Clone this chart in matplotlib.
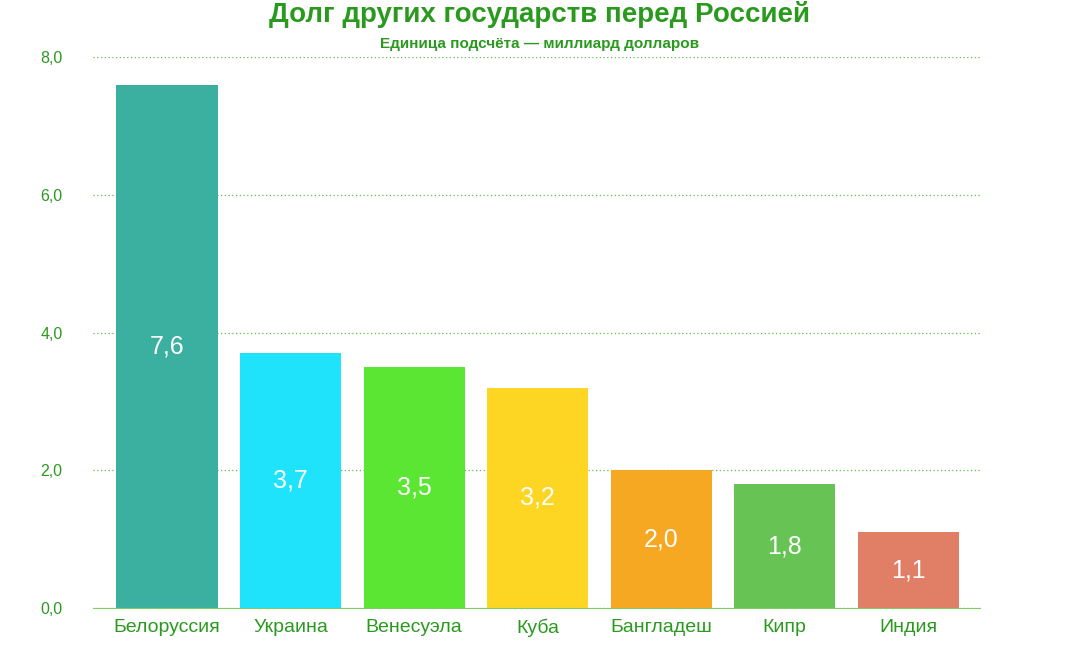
import matplotlib
matplotlib.use("Agg")
import matplotlib.pyplot as plt
plt.rcParams["font.family"] = "Liberation Sans"

categories = ["Белоруссия", "Украина", "Венесуэла", "Куба", "Бангладеш", "Кипр", "Индия"]
values = [7.6, 3.7, 3.5, 3.2, 2.0, 1.8, 1.1]
colors = ["#3cb0a0", "#1ee3fb", "#5ae632", "#fdd623", "#f7a823", "#66c354", "#e07f66"]
yticks = [0, 2, 4, 6, 8]

green = "#2a9a1e"
fig = plt.figure(figsize=(10.79, 6.5), dpi=100)
ax = fig.add_axes([0.0862, 0.0646, 0.822, 0.8477])
x = list(range(len(categories)))
ax.bar(x, values, width=0.82, color=colors, zorder=2)
for xi, v in zip(x, values):
    ax.text(xi, v / 2, f"{v:.1f}".replace(".", ","), ha="center", va="center",
            color="white", fontsize=18, zorder=3)
ax.set_xlim(-0.6, 6.58)
ax.set_ylim(0, 8)
ax.set_yticks(yticks)
ax.set_yticklabels([f"{t:.1f}".replace(".", ",") for t in yticks], color=green, fontsize=11.5)
ax.set_xticks(x)
ax.set_xticklabels(categories, color=green, fontsize=14)
ax.tick_params(length=0, pad=8)
ax.tick_params(axis="y", pad=22)
for s in ["top", "right", "left"]:
    ax.spines[s].set_visible(False)
ax.spines["bottom"].set_color("#7fd06a")
ax.yaxis.grid(True, linestyle=(0, (1, 2)), color="#5cc04a", linewidth=0.9, zorder=0)
ax.set_axisbelow(True)
fig.text(0.5, 0.977, "Долг других государств перед Россией", ha="center", va="center",
         color=green, fontsize=20, fontweight="bold")
fig.text(0.5, 0.932, "Единица подсчёта — миллиард долларов", ha="center", va="center",
         color=green, fontsize=11, fontweight="bold")
fig.savefig("out.png", dpi=100)
